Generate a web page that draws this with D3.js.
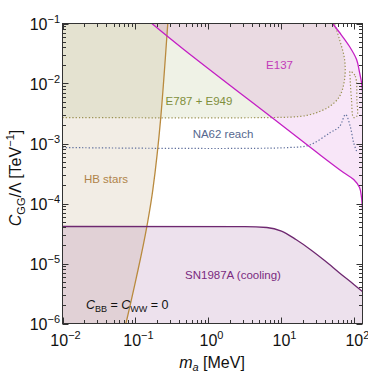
<!DOCTYPE html>
<html>
<head>
<meta charset="utf-8">
<script src="https://cdn.jsdelivr.net/npm/d3@7"></script>
<style>
    body { margin: 0; background: #fff; }
    text { font-family: 'Liberation Sans', Arial, sans-serif; }
</style>
</head>
<body>
<svg width="368" height="375"></svg>
<script>
// boundaries as [m_a (MeV), C_GG/Lambda (TeV^-1)]
const hbStars = [[0.074, 1e-6], [0.102, 5.6e-6], [0.143, 4.1e-5], [0.173, 1.7e-4], [0.222, 2.7e-3], [0.277, 0.1]];
const sn1987a = [[0.01, 4.14e-5], [3.16, 4.12e-5], [6.31, 3.98e-5], [10, 3.47e-5], [15.8, 2.51e-5], [25.1, 1.7e-5],
    [39.8, 1.1e-5], [63.1, 6.9e-6], [100, 4.4e-6], [129, 3.4e-6]];
const e137Lower = [[0.1675, 0.1], [0.459, 0.0369], [9.44, 2.15e-3], [33.3, 6.56e-4], [70.8, 3.29e-4], [97.7, 2.51e-4],
    [117.5, 1.85e-4], [125, 1.26e-4], [129, 7.9e-5]];
const e137Upper = [[50.1, 0.1], [62.5, 0.0708], [85.7, 0.0414], [107, 0.0251], [117.5, 0.0153], [125, 0.0104], [129, 7.4e-3]];
const e787 = [[0.01, 2.71e-3], [7.82, 2.71e-3], [17.7, 2.82e-3], [25.1, 3.04e-3], [33.3, 3.41e-3], [45.7, 4.14e-3],
    [62.5, 6.07e-3], [73.3, 0.0117], [73.3, 0.0251], [62.5, 0.0541], [53.3, 0.1]];
const e787Island = [[87.5, 0.016], [102.6, 0.01324], [108, 5.41e-3], [108, 2.85e-3], [97.3, 2.71e-3], [91.2, 5.41e-3], [87.5, 0.0117]];
const na62 = [[0.01, 8.57e-4], [12.9, 8.57e-4], [24.3, 9.44e-4], [46.7, 1.52e-3], [62.5, 1.92e-3], [75.5, 3.04e-3],
    [87.5, 1.94e-3], [97.3, 1.04e-3], [107, 7.45e-4]];
const xTickExps = [-2, -1, 0, 1, 2];
const yTickExps = [-6, -5, -4, -3, -2, -1];
const xMin = 0.01, xMax = 129;
const yMin = 1e-6, yMax = 0.1;

const svg = d3.select('svg');
const x = d3.scaleLog().domain([xMin, xMax]).range([62.5, 362.5]);
const y = d3.scaleLog().domain([yMin, yMax]).range([323.5, 23.5]);

const line = (curve) => d3.line()
    .x(d => x(d[0]))
    .y(d => y(d[1]))
    .curve(curve);
const cr = d3.curveCatmullRom.alpha(0.5);

svg.append('clipPath')
    .attr('id', 'plot')
    .append('rect')
    .attr('x', x(xMin))
    .attr('y', y(yMax))
    .attr('width', x(xMax) - x(xMin))
    .attr('height', y(yMin) - y(yMax));

const g = svg.append('g').attr('clip-path', 'url(#plot)');

// shaded regions
g.append('path')
    .attr('d', line(d3.curveMonotoneX)(hbStars) + `L${x(xMin)},${y(yMax)}L${x(xMin)},${y(yMin)}Z`)
    .style('fill', 'rgb(184,154,112)')
    .style('fill-opacity', 0.18);

g.append('path')
    .attr('d', line(cr)(e787) + `L${x(xMin)},${y(yMax)}Z`)
    .style('fill', 'rgb(150,170,90)')
    .style('fill-opacity', 0.15);

g.append('path')
    .attr('d', line(cr)(e137Lower) + line(cr)(e137Upper.slice().reverse()).replace(/^M/, 'L') + 'Z')
    .style('fill', 'rgb(200,50,200)')
    .style('fill-opacity', 0.12);

g.append('path')
    .attr('d', line(d3.curveMonotoneX)(sn1987a) + `L${x(xMax)},${y(yMin)}L${x(xMin)},${y(yMin)}Z`)
    .style('fill', 'rgb(130,40,130)')
    .style('fill-opacity', 0.14);

// boundary lines
const stroke = (data, curve, color, dash) => {
    g.append('path')
        .attr('d', line(curve)(data))
        .style('fill', 'none')
        .style('stroke', color)
        .style('stroke-width', dash ? 1.2 : 1.3)
        .style('stroke-dasharray', dash ? '1.3,2' : null);
};
stroke(e787, cr, '#9a9152', true);
stroke(e787Island, d3.curveCatmullRomClosed.alpha(0.5), '#9a9152', true);
stroke(na62, cr, '#5f6f9c', true);
stroke(hbStars, d3.curveMonotoneX, '#b98a3e', false);
stroke(sn1987a, d3.curveMonotoneX, '#6e2870', false);
stroke(e137Lower, cr, '#c41fc4', false);
stroke(e137Upper, cr, '#c41fc4', false);

// region labels
const labels = [
    { text: 'E137', x: 279.5, y: 69, color: '#c23ab8' },
    { text: 'E787 + E949', x: 199, y: 105, color: '#7f8f3c' },
    { text: 'NA62 reach', x: 223, y: 138, color: '#56688f' },
    { text: 'HB stars', x: 106, y: 183, color: '#b0844a' },
    { text: 'SN1987A (cooling)', x: 233, y: 279, color: '#7a2a80' }
];
svg.selectAll('.region-label')
    .data(labels)
    .enter()
    .append('text')
    .attr('class', 'region-label')
    .attr('x', d => d.x)
    .attr('y', d => d.y)
    .attr('text-anchor', 'middle')
    .style('font-size', '11.5px')
    .style('fill', d => d.color)
    .text(d => d.text);

const note = svg.append('text')
    .attr('x', 86)
    .attr('y', 309)
    .style('font-size', '12.5px')
    .style('fill', '#111');
note.append('tspan').style('font-style', 'italic').text('C');
note.append('tspan').attr('dy', 3).style('font-size', '9px').text('BB');
note.append('tspan').attr('dy', -3).text(' = ');
note.append('tspan').style('font-style', 'italic').text('C');
note.append('tspan').attr('dy', 3).style('font-size', '9px').text('WW');
note.append('tspan').attr('dy', -3).text('  = 0');

// frame and ticks
svg.append('rect')
    .attr('x', x(xMin))
    .attr('y', y(yMax))
    .attr('width', x(xMax) - x(xMin))
    .attr('height', y(yMin) - y(yMax))
    .style('fill', 'none')
    .style('stroke', '#333')
    .style('stroke-width', 1);

const isMajor = v => Math.abs(Math.log10(v) - Math.round(Math.log10(v))) < 1e-6;
const ticks = svg.append('g').style('stroke', '#333').style('stroke-width', 1);
x.ticks().forEach((v) => {
    const len = isMajor(v) ? 6 : 3.5;
    const px = Math.round(x(v)) + 0.5;
    ticks.append('line').attr('x1', px).attr('x2', px).attr('y1', y(yMin)).attr('y2', y(yMin) - len);
    ticks.append('line').attr('x1', px).attr('x2', px).attr('y1', y(yMax)).attr('y2', y(yMax) + len);
});
y.ticks().forEach((v) => {
    const len = isMajor(v) ? 6 : 3.5;
    const py = Math.round(y(v)) + 0.5;
    ticks.append('line').attr('y1', py).attr('y2', py).attr('x1', x(xMin)).attr('x2', x(xMin) + len);
    ticks.append('line').attr('y1', py).attr('y2', py).attr('x1', x(xMax)).attr('x2', x(xMax) - len);
});

const powerLabel = (sel, e) => {
    sel.append('tspan').text('10');
    sel.append('tspan').attr('dy', -7).style('font-size', '11px').text(String(e).replace('-', '\u2212'));
};
xTickExps.forEach((e) => {
    const t = svg.append('text')
        .attr('x', x(Math.pow(10, e)) + 3)
        .attr('y', 346)
        .attr('text-anchor', 'middle')
        .style('font-size', '16px')
        .style('fill', '#111');
    powerLabel(t, e);
});
yTickExps.forEach((e) => {
    const t = svg.append('text')
        .attr('x', 60)
        .attr('y', y(Math.pow(10, e)) + 6)
        .attr('text-anchor', 'end')
        .style('font-size', '16px')
        .style('fill', '#111');
    powerLabel(t, e);
});

// axis titles
const xTitle = svg.append('text')
    .attr('x', 212)
    .attr('y', 368)
    .attr('text-anchor', 'middle')
    .style('font-size', '16px')
    .style('fill', '#111');
xTitle.append('tspan').style('font-style', 'italic').text('m');
xTitle.append('tspan').attr('dy', 3).style('font-style', 'italic').style('font-size', '11px').text('a');
xTitle.append('tspan').attr('dy', -3).text(' [MeV]');

const yTitle = svg.append('text')
    .attr('transform', 'translate(21,178) rotate(-90)')
    .attr('text-anchor', 'middle')
    .style('font-size', '16px')
    .style('fill', '#111');
yTitle.append('tspan').style('font-style', 'italic').text('C');
yTitle.append('tspan').attr('dy', 4).style('font-size', '11px').text('GG');
yTitle.append('tspan').attr('dy', -4).text('/\u039b [TeV');
yTitle.append('tspan').attr('dy', -7).style('font-size', '11px').text('\u22121');
yTitle.append('tspan').attr('dy', 7).text(']');
</script>
</body>
</html>
